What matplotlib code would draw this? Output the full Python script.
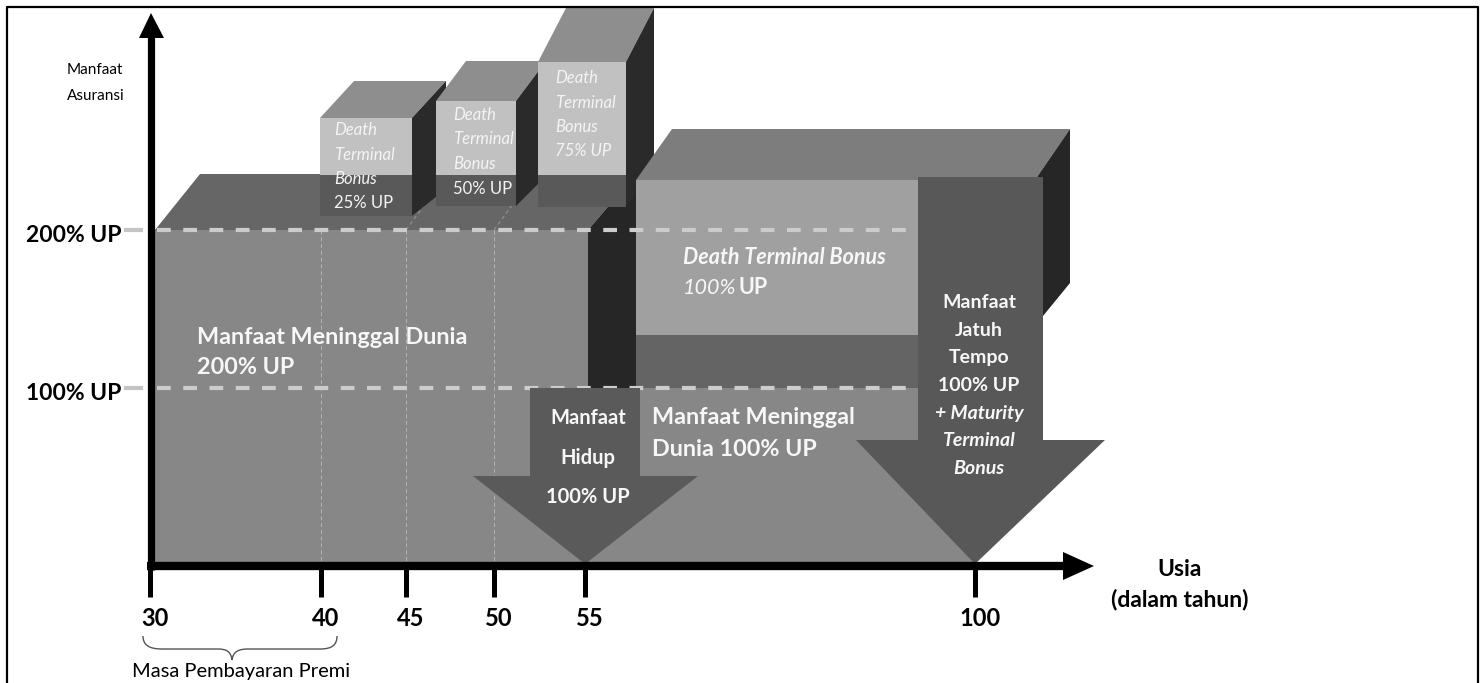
import numpy as np
import matplotlib.pyplot as plt
from matplotlib.patches import Polygon, PathPatch
from matplotlib.path import Path

plt.rcParams['font.family'] = ['Lato', 'DejaVu Sans']

# data
ages = [30, 40, 45, 50, 55, 100]
levels = [200, 100]
level_labels = ['200% UP', '100% UP']
bonus_pct = [25, 50, 75]
hidup_age = 55
tempo_age = 100


# schematic axis (broken after 55): age / %UP -> picture
def px(a):
    return np.interp(a, [30, 40, 45, 50, 55, 100], [150, 321, 406, 494, 585, 975])


def py(p):
    return np.interp(p, [0, 100, 200], [562, 388, 230])


fig = plt.figure(figsize=(14.81, 6.83), dpi=100)
ax = fig.add_axes([0, 0, 1, 1])
ax.set_xlim(0, 1481)
ax.set_ylim(683, 0)
ax.axis('off')


def poly(pts, color, z):
    ax.add_patch(Polygon(pts, closed=True, facecolor=color, edgecolor='none', zorder=z))


y0 = py(0)
y100 = py(100)
y200 = py(200)

# frame
ax.plot([7, 7, 1478, 1478], [683, 7, 7, 683], color='black', lw=1.6, zorder=20)

# ground (100% UP death benefit) and block 200%
poly([(155, y100), (975, y100), (975, y0), (155, y0)], '#878787', 1)
poly([(155, y200), (588, y200), (588, y100), (155, y100)], '#878787', 1)
poly([(155, y200), (200, 174), (636, 174), (588, y200)], '#666666', 1)
poly([(588, y200), (636, 174), (636, y100), (588, y100)], '#262626', 1.5)

# thin dashed lines on the 200% block
for a in ages[1:4]:
    ax.plot([px(a), px(a)], [y200, y0], color='#b5b5b5', lw=0.7, ls=(0, (4, 3)), zorder=1.8)
for a in ages[2:4]:
    ax.plot([px(a), px(a) + 40], [y200, 175], color='#9a9a9a', lw=0.7, ls=(0, (4, 3)), zorder=1.8)

# small terminal bonus boxes
fronts = [(320, 412, 118, 216), (436, 516, 101, 206), (538, 626, 62, 207)]
depths = [(34, -37), (30, -40), (28, -54)]
txt_pos = [(334, 130), (453, 115), (555, 78)]
for k, p in enumerate(bonus_pct):
    x1, x2, yt, yb = fronts[k]
    dx, dy = depths[k]
    poly([(x1, yt), (x1 + dx, yt + dy), (x2 + dx, yt + dy), (x2, yt)], '#8e8e8e', 2)
    poly([(x2, yt), (x2 + dx, yt + dy), (x2 + dx, yb + dy + 10), (x2, yb)], '#2a2a2a', 2)
    poly([(x1, yt), (x2, yt), (x2, yb), (x1, yb)], '#c1c1c1', 2)
    poly([(x1, 175), (x2, 175), (x2, yb), (x1, yb)], '#595959', 2.1)
    tx, ty = txt_pos[k]
    for j, w in enumerate(['Death', 'Terminal', 'Bonus']):
        ax.text(tx, ty + j * 24.5, w, color='#f4f4f4', fontsize=12, style='italic',
                ha='left', va='center', zorder=2.5)
    ax.text(tx, ty + 3 * 24.5, '%d%% UP' % p, color='#f4f4f4', fontsize=12,
            style='italic' if p == 75 else 'normal', ha='left', va='center', zorder=2.5)

# block after 55
poly([(636, 180), (672, 129), (1070, 129), (1035, 180)], '#7d7d7d', 3)
poly([(1035, 180), (1070, 129), (1070, 283), (1043, 316), (1035, 316)], '#262626', 3)
poly([(636, 180), (1035, 180), (1035, 335), (636, 335)], '#a0a0a0', 3)
poly([(636, 335), (1035, 335), (1035, y100), (636, y100)], '#646464', 3)

# dashed level lines
for lv, lab in zip(levels, level_labels):
    yy = py(lv)
    ax.plot([157, 920], [yy, yy], color='#cccccc', lw=3, dashes=(3.3, 3), zorder=4)
    ax.plot([126, 141], [yy, yy], color='#c4c4c4', lw=3, zorder=4)
    ax.text(121, yy + 5, lab, fontsize=16.5, fontweight='bold', ha='right', va='center', zorder=10)

# benefit arrows
hx = px(hidup_age)
poly([(530, y100), (640, y100), (640, 476), (698, 476), (hx, y0 + 2),
      (473, 476), (530, 476)], '#5a5a5a', 5)
tx = px(tempo_age)
poly([(918, 177), (1043, 177), (1043, 440), (1105, 440), (tx, y0 + 2),
      (856, 440), (918, 440)], '#585858', 5)

# axes
ax.plot([151, 151], [570, 36], color='black', lw=5.2, solid_capstyle='butt', zorder=8)
poly([(139, 38), (151, 13), (164, 38)], 'black', 8)
ax.plot([147, 1066], [566, 566], color='black', lw=6, solid_capstyle='butt', zorder=8)
poly([(1063, 552), (1094, 566), (1063, 580)], 'black', 8)
for a in ages:
    ax.plot([px(a), px(a)], [566, 597], color='black', lw=3.6, solid_capstyle='butt', zorder=8)
    ax.text(px(a) + 5, 618, str(a), fontsize=17, fontweight='bold', ha='center', va='center', zorder=10)

# brace for premium payment period
verts = [(143, 636), (143, 645), (149, 649), (162, 649), (218, 649),
         (227, 649), (231, 652), (232, 660),
         (233, 652), (238, 649), (248, 649), (320, 649), (332, 649), (337, 645), (337, 636)]
codes = [Path.MOVETO, Path.CURVE4, Path.CURVE4, Path.CURVE4, Path.LINETO,
         Path.CURVE4, Path.CURVE4, Path.CURVE4,
         Path.CURVE4, Path.CURVE4, Path.CURVE4, Path.LINETO, Path.CURVE4, Path.CURVE4, Path.CURVE4]
ax.add_patch(PathPatch(Path(verts, codes), facecolor='none', edgecolor='#555555', lw=1, zorder=9))
ax.text(241, 672, 'Masa Pembayaran Premi', fontsize=14.5, ha='center', va='center', zorder=10)

ax.text(67, 70, 'Manfaat', fontsize=11, ha='left', va='center', zorder=10)
ax.text(67, 96, 'Asuransi', fontsize=11, ha='left', va='center', zorder=10)
ax.text(1180, 570, 'Usia', fontsize=16.5, fontweight='bold', ha='center', va='center', zorder=10)
ax.text(1180, 600, '(dalam tahun)', fontsize=16.5, fontweight='bold', ha='center', va='center', zorder=10)

# labels inside the picture
wc = '#f7f7f7'
ax.text(197, 337, 'Manfaat Meninggal Dunia', color=wc, fontsize=16.8, fontweight='bold', va='center', zorder=10)
ax.text(197, 368, '200% UP', color=wc, fontsize=16.8, fontweight='bold', va='center', zorder=10)
ax.text(683, 257, 'Death Terminal Bonus', color=wc, fontsize=15.5, fontweight='bold', style='italic',
        va='center', zorder=10)
ax.text(683, 288, '100%', color=wc, fontsize=15.5, style='italic', va='center', zorder=10)
ax.text(738, 288, 'UP', color=wc, fontsize=15.5, fontweight='bold', va='center', zorder=10)
ax.text(652, 418, 'Manfaat Meninggal', color=wc, fontsize=16.8, fontweight='bold', va='center', zorder=10)
ax.text(652, 450, 'Dunia 100% UP', color=wc, fontsize=16.8, fontweight='bold', va='center', zorder=10)
for w, yy in zip(['Manfaat', 'Hidup', '100% UP'], [418, 458, 497]):
    ax.text(hx + 3, yy, w, color=wc, fontsize=14.5, fontweight='bold', ha='center', va='center', zorder=10)
jt = ['Manfaat', 'Jatuh', 'Tempo', '100% UP', '+ Maturity', 'Terminal', 'Bonus']
for j, w in enumerate(jt):
    ax.text(tx + 4, 303 + j * 27.5, w, color=wc, fontsize=14, fontweight='bold',
            style='italic' if j >= 4 else 'normal', ha='center', va='center', zorder=10)

fig.savefig('out.png', dpi=100)
